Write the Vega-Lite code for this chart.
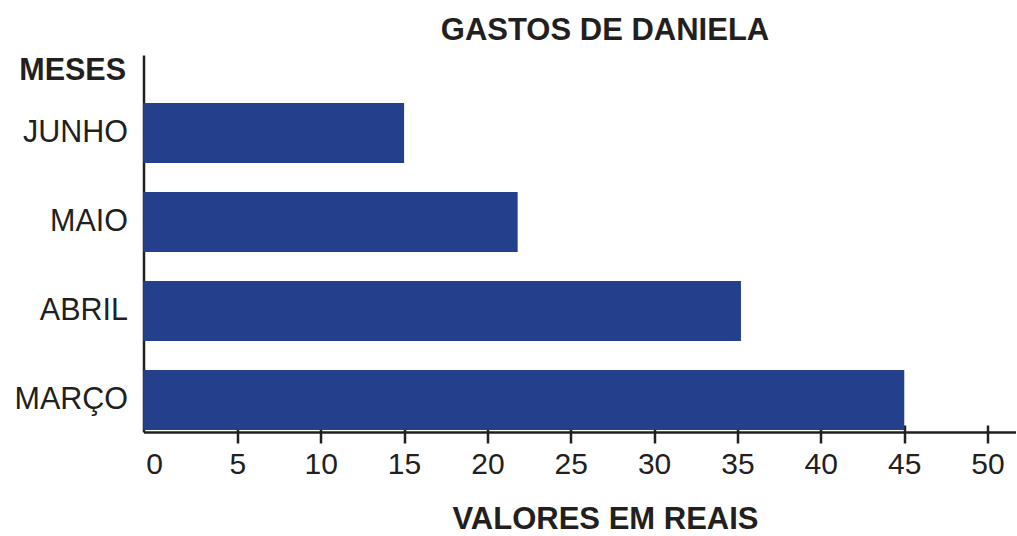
{
  "$schema": "https://vega.github.io/schema/vega-lite/v6.json",
  "autosize": "none",
  "width": 872,
  "height": 377,
  "padding": {"left": 143.5, "top": 55, "right": 1.5, "bottom": 104},
  "background": "white",
  "title": {
    "text": "GASTOS DE DANIELA",
    "font": "Liberation Sans",
    "fontSize": 31,
    "fontWeight": "bold",
    "color": "#231f20",
    "anchor": "middle",
    "dx": 25.5,
    "offset": 8
  },
  "data": {
    "values": [
      {"mes": "JUNHO", "valor": 15},
      {"mes": "MAIO", "valor": 21.8},
      {"mes": "ABRIL", "valor": 35.2},
      {"mes": "MARÇO", "valor": 45}
    ]
  },
  "config": {
    "view": {"stroke": null},
    "axis": {
      "labelFont": "Liberation Sans",
      "titleFont": "Liberation Sans",
      "labelColor": "#231f20",
      "titleColor": "#231f20",
      "domainColor": "#231f20",
      "tickColor": "#231f20",
      "domainWidth": 2.5,
      "tickWidth": 2.5
    }
  },
  "resolve": {"axis": {"x": "independent"}},
  "layer": [
    {
      "mark": {"type": "bar", "color": "#243f8c"},
      "encoding": {
        "y": {
          "field": "mes",
          "type": "nominal",
          "sort": ["JUNHO", "MAIO", "ABRIL", "MARÇO"],
          "scale": {"paddingInner": 0.326, "paddingOuter": 0.281, "align": 0.96},
          "axis": {
            "title": "MESES",
            "titleFontSize": 30.5,
            "titleFontWeight": "bold",
            "titleAngle": 0,
            "titleAlign": "right",
            "titleBaseline": "alphabetic",
            "titleX": -18,
            "titleY": 24,
            "ticks": false,
            "labelFontSize": 30.5,
            "labelPadding": 16,
            "grid": false
          }
        },
        "x": {
          "field": "valor",
          "type": "quantitative",
          "scale": {"domain": [-0.63, 51.68], "nice": false, "zero": false},
          "axis": {
            "orient": "bottom",
            "title": "VALORES EM REAIS",
            "titleFontSize": 31,
            "titleFontWeight": "bold",
            "titlePadding": 25,
            "titleX": 461.5,
            "values": [0, 5, 10, 15, 20, 25, 30, 35, 40, 45, 50],
            "tickSize": 11,
            "tickColor": {"condition": {"test": "datum.value === 0", "value": "transparent"}, "value": "#231f20"},
            "labelFontSize": 30,
            "labelPadding": 6,
            "grid": false
          }
        },
        "x2": {"datum": -0.63}
      }
    },
    {
      "mark": {"type": "bar", "color": "#243f8c"},
      "encoding": {
        "y": {
          "field": "mes",
          "type": "nominal",
          "sort": ["JUNHO", "MAIO", "ABRIL", "MARÇO"]
        },
        "x": {
          "field": "valor",
          "type": "quantitative",
          "axis": {
            "orient": "bottom",
            "title": null,
            "domain": false,
            "labels": false,
            "values": [5, 10, 15, 20, 25, 30, 35, 40, 45, 50],
            "tickSize": -7,
            "grid": false
          }
        },
        "x2": {"datum": -0.63}
      }
    }
  ]
}
